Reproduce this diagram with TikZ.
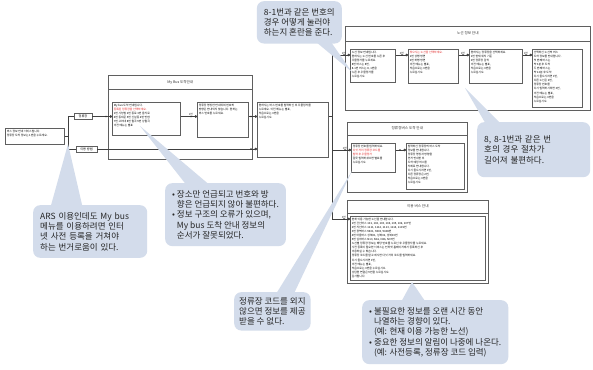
\documentclass[tikz,border=0pt]{standalone}
\usepackage{fontspec}
\setmainfont{Noto Sans CJK KR}
\usepackage{tikz}
\usetikzlibrary{arrows.meta,positioning,calc,decorations.markings}
\pgfdeclarelayer{background}
\pgfsetlayers{background,main}

\definecolor{notefill}{RGB}{211,220,235}
\definecolor{framegray}{RGB}{95,95,95}
\definecolor{menured}{RGB}{225,35,35}

\newcommand{\menufont}{\fontsize{2.8}{4.1}\selectfont}
\newcommand{\notefont}{\fontsize{8.5}{10.3}\selectfont}
\newcommand{\menubox}[3]{\parbox[t][#2pt][t]{#1pt}{\menufont\raggedright #3}}

\begin{document}
\begin{tikzpicture}[
      x=1pt, y=-1pt,
      panel/.style={draw=framegray, line width=.7pt, anchor=north west, inner sep=0pt},
      band/.style={draw=framegray, line width=.6pt},
      ptitle/.style={font=\fontsize{3.6}{4}\selectfont, text=black!80},
      menu/.style={draw=framegray, line width=.5pt, fill=white, anchor=north west, inner sep=1.5pt},
      pick/.style={draw=framegray, line width=.5pt, fill=white, inner sep=1.5pt, font=\fontsize{3.2}{4}\selectfont},
      wire/.style={draw=black!75, line width=.5pt},
      link/.style={wire, -{Circle[length=2.6pt]}, postaction={decorate},
        decoration={markings, mark=at position -6pt with {\fill[black!80] circle (.9pt);}}},
      lbl/.style={font=\menufont, text=black!80, inner sep=.5pt, pos=1, above, xshift=-6pt},
      note/.style={fill=notefill, rounded corners=7pt, inner sep=7pt, align=left, font=\notefont, text=black!85, anchor=north west},
      pointer/.style={fill=notefill}
    ]

    \begin{pgfonlayer}{background}
      \fill[white] (0,0) rectangle (593,369);
    \end{pgfonlayer}
    \useasboundingbox (0,0) rectangle (593,369);

    % the panels
    \node[panel, minimum width=144pt, minimum height=84pt] (mybus) at (108,75) {};
    \node[panel, minimum width=245pt, minimum height=84pt] (route) at (345,26) {};
    \node[panel, minimum width=120pt, minimum height=70pt] (stop) at (347,122) {};
    \node[panel, minimum width=141pt, minimum height=83pt] (other) at (347,200) {};
    \draw[band] ([yshift=-14pt]mybus.north west) -- ([yshift=-14pt]mybus.north east);
    \draw[band] ([yshift=-15pt]route.north west) -- ([yshift=-15pt]route.north east);
    \draw[band] ([yshift=-13pt]stop.north west) -- ([yshift=-13pt]stop.north east);
    \draw[band] ([yshift=-13pt]other.north west) -- ([yshift=-13pt]other.north east);
    \node[ptitle] (mybusT) at ($(mybus.north)+(0,7)$) {My Bus 도착안내};
    \node[ptitle] (routeT) at ($(route.north)+(0,7.5)$) {노선 정보 안내};
    \node[ptitle] (stopT) at ($(stop.north)+(0,6.5)$) {정류장버스 도착 안내};
    \node[ptitle] (otherT) at ($(other.north)+(0,6.5)$) {이용 버스 안내};

    % entry
    \node[menu] (start) at (5,128) {\menubox{56}{13}{버스 정보 안내 서비스입니다.\\정류장 도착 정보는 1번을 누르세요.}};
    \node[pick, minimum width=18pt] (pickstop) at (83,116.5) {정류장};
    \node[pick, minimum width=21pt] (pickuse) at (86.5,149) {이용 방법};

    % my bus
    \node[menu] (m1) at (112,102) {\menubox{65}{30}{My bus 도착 안내입니다.\\{\color{menured}등록된 정류장을 선택하세요.}\\1번 시청앞 2번 종로 3번 을지로\\4번 동대문 5번 신설동 6번 안암\\7번 고려대 8번 월곡 9번 상월곡\\이전 메뉴는 별표}};
    \node[menu] (m2) at (197,102) {\menubox{48}{32}{정류장 명칭만 안내되며 번호와\\방향은 안내되지 않습니다. 원하는\\버스 번호를 누르세요.}};
    \node[menu] (m3) at (257,102) {\menubox{68}{52}{원하시는 버스 번호를 입력하신 후 우물정자를\\누르세요. 이전 메뉴는 별표,\\처음으로는 0번을\\누르십시오.}};

    % route info
    \node[menu] (r1) at (350,49) {\menubox{42}{30}{노선 정보 안내입니다.\\원하시는 노선 번호를 누른 후\\우물정자를 누르세요.\\8번 버스는 8번,\\8-1번 버스는 8, 1번을\\누른 후 우물정자를\\누르십시오.}};
    \node[menu] (r2) at (408,49) {\menubox{47}{31}{{\color{menured}찾으시는 노선을 선택하세요.}\\1번 상행 방면\\2번 하행 방면\\이전 메뉴는 별표,\\처음으로는 0번을\\누르십시오.}};
    \node[menu] (r3) at (469,49) {\menubox{50}{31}{원하시는 정류장을 선택하세요.\\1번 현재 위치 기준\\2번 정류장 검색\\이전 메뉴는 별표,\\처음으로는 0번을\\누르십시오.}};
    \node[menu] (r4) at (532,49) {\menubox{47}{55}{선택하신 노선의 버스\\도착 정보를 안내합니다.\\첫 번째 버스는\\약 3분 후 도착\\두 번째 버스는\\약 12분 후 도착\\다시 들으시려면 1번,\\다른 노선은 2번,\\정류장 번호를\\다시 입력하시려면 3번,\\이전 메뉴는 별표,\\처음으로는 0번을\\누르십시오.}};

    % stop info
    \node[menu] (s1) at (351,143) {\menubox{41}{26}{정류장 번호를 입력하세요.\\{\color{menured}다섯 자리 정류장 코드를}\\{\color{menured}입력 후 우물정자}\\잘못 입력하셨으면 별표를\\누르십시오.}};
    \node[menu] (s2) at (406,143) {\menubox{55}{43}{입력하신 정류장의 버스 도착\\정보를 안내합니다.\\정류장 명칭과 방향을\\먼저 안내한 후\\도착 예정 버스를\\차례로 안내합니다.\\다시 들으시려면 1번,\\다른 정류장은 2번,\\처음으로는 0번을\\누르십시오.}};

    % other info
    \node[menu] (o1) at (350,216) {\menubox{132}{61}{현재 이용 가능한 노선을 안내합니다.\\1번 간선버스 101, 102, 103, 104, 105, 106, 107번\\2번 지선버스 1111, 1112, 1113, 1114, 1115번\\3번 광역버스 9401, 9403, 9408번\\4번 마을버스 성북01, 성북02, 성북03번\\5번 심야버스 N13, N16, N26, N37번\\노선별 정류장 정보는 해당 번호를 누르신 후 우물정자를 누르세요.\\사전 등록이 필요한 서비스는 인터넷 홈페이지에서 등록하신 후\\이용하실 수 있습니다.\\정류장 코드를 알고 계시면 다섯 자리 코드를 입력하세요.\\다시 들으시려면 1번,\\이전 메뉴는 별표,\\처음으로는 0번을 누르십시오.\\상담원 연결은 9번을 누르십시오.\\감사합니다.}};

    % the arrows
    \coordinate (row0) at (0,55);
    \coordinate (row1) at (0,116.5);
    \coordinate (row2) at (0,150);
    \coordinate (trunkA) at (332,55);
    \coordinate (trunkB) at (332,116.5);
    \coordinate (trunkC) at (332,150);
    \coordinate (trunkD) at (332,219);
    \draw[wire] (start.east) -- ++(4,0) |- (pickstop.west);
    \draw[wire] (start.east) -- ++(4,0) |- (pickuse.west);
    \draw[link] (pickstop.east) -- (m1.west |- row1);
    \draw[link] (m1.east |- row1) -- node[lbl] (l1) {1번} (m2.west |- row1);
    \draw[link] (m2.east |- row1) -- (m3.west |- row1);
    \draw[link] (pickuse.east) -- (m3.west |- pickuse.east);
    \draw[wire] (m3.east |- row1) -- (trunkB);
    \draw[wire] (trunkA) -- (trunkD);
    \draw[link] (trunkA) -- node[lbl] (l2) {1번} (r1.west |- trunkA);
    \draw[link] (r1.east |- row0) -- node[lbl] (l3) {2번} (r2.west |- row0);
    \draw[link] (r2.east |- row0) -- node[lbl] (l4) {1번} (r3.west |- row0);
    \draw[link] (r3.east |- row0) -- node[lbl] (l5) {1번} (r4.west |- row0);
    \draw[link] (trunkC) -- node[lbl] (l6) {2번} (s1.west |- trunkC);
    \draw[link] (s1.east |- row2) -- (s2.west |- row2);
    \draw[link] (trunkD) -- node[lbl] (l7) {3번} (o1.west |- trunkD);

    % the notes
    \node[note, anchor=north east] (noteA) at (342,1) {8-1번과 같은 번호의\\경우 어떻게 눌러야\\하는지 혼란을 준다.};
    \coordinate (tipA) at (352,72);
    \fill[pointer] ($(noteA.south)+(14,-4)$) -- (tipA) -- ($(noteA.south)+(30,-4)$) -- cycle;

    \node[note, text width=99pt, minimum height=55pt] (noteB) at (477,122) {8, 8-1번과 같은 번\\호의 경우 절차가\\길어져 불편하다.};
    \coordinate (tipB) at (465,88);
    \fill[pointer] ($(noteB.north west)+(10,4)$) -- (tipB) -- ($(noteB.north west)+(26,4)$) -- cycle;

    \node[note] (noteC) at (165,183) {• 장소만 언급되고 번호와 방\\\phantom{•~}향은 언급되지 않아 불편하다.\\• 정보 구조의 오류가 있으며,\\\phantom{•~}My bus 도착 안내 정보의\\\phantom{•~}순서가 잘못되었다.};
    \coordinate (tipC) at (140,126);
    \fill[pointer] ($(noteC.north west)+(23,4)$) -- (tipC) -- ($(noteC.north west)+(47,4)$) -- cycle;

    \node[note, text width=100pt] (noteD) at (33,205) {ARS 이용인데도 My bus\\메뉴를 이용하려면 인터\\넷 사전 등록을 거쳐야\\하는 번거로움이 있다.};
    \coordinate (tipD) at (68,144);
    \fill[pointer] ($(noteD.north west)+(17,4)$) -- (tipD) -- ($(noteD.north west)+(50,4)$) -- cycle;

    \node[note, inner sep=5pt] (noteE) at (234,292) {정류장 코드를 외지\\않으면 정보를 제공\\받을 수 없다.};
    \coordinate (tipE) at (352,171);
    \fill[pointer] ($(noteE.north east)+(-36,4)$) -- (tipE) -- ($(noteE.north east)+(-18,4)$) -- cycle;

    \node[note] (noteF) at (362,300) {• 불필요한 정보를 오랜 시간 동안\\\phantom{•~}나열하는 경향이 있다.\\\phantom{•~}(예: 현재 이용 가능한 노선)\\• 중요한 정보의 알림이 나중에 나온다.\\\phantom{•~}(예: 사전등록, 정류장 코드 입력)};
    \coordinate (tipF) at (412,282);
    \fill[pointer] ($(noteF.north west)+(38,4)$) -- (tipF) -- ($(noteF.north west)+(65,4)$) -- cycle;
    \end{tikzpicture}
\end{document}
